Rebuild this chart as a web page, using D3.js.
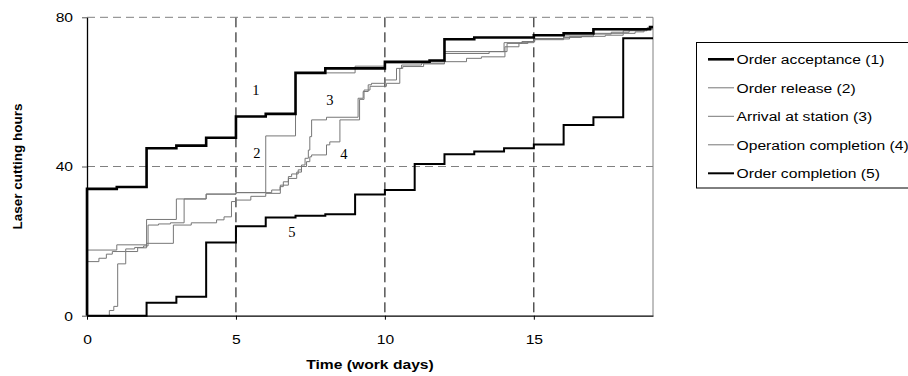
<!DOCTYPE html>
<html>
<head>
<meta charset="utf-8">
<script src="https://cdn.jsdelivr.net/npm/d3@7"></script>
<style>
  body { margin: 0; background: #fff; }
  svg { display: block; font-family: Arial, "Liberation Sans", sans-serif; }
</style>
</head>
<body>
<svg id="chart" width="908" height="376"></svg>
<script>
// step series: [work day, cumulative laser cutting hours]
const orderAcceptance = [[0,0],[0,34],[1,34.5],[2,44.9],[3,45.6],[4,47.7],[5,53.4],[6,54.1],[7,65.1],[8,66.3],[10,68.1],[11.5,68.4],[12,74.1],[13,74.6],[15,75.2],[16,75.7],[17,76.8],[18.9,77.4],[19,77.4]];
const orderRelease = [[0,17.6],[1,19.0],[2,25.8],[3,31.3],[4,32.6],[5,33.0],[6,48.2],[7,65.1],[9,66.9],[10,67.7],[12,70.8],[14,73.2],[15,74.3],[16,75.0],[17,75.7],[18,76.4],[18.8,77.2],[19,77.2]];
const arrivalAtStation = [[0,14.5],[0.4,15.4],[0.65,16.5],[0.85,17.2],[1.3,17.9],[1.6,18.3],[1.9,18.7],[2.05,24.3],[2.4,24.6],[2.8,24.9],[3.26,31.3],[4,32.6],[5,33.0],[6.2,33.7],[6.48,34.6],[6.59,35.9],[6.76,37.3],[6.87,38],[7.09,39.1],[7.2,40.4],[7.32,42.2],[7.43,44.4],[7.48,48],[7.54,52.5],[8.04,53.2],[9.1,58.3],[9.27,60.1],[9.44,61.9],[9.55,62.3],[10,63.2],[10.39,66.3],[10.56,67.2],[11.23,67.7],[11.5,68.1],[12,70.3],[13.5,70.8],[14.1,73.0],[14.6,73.5],[15,74.2],[16.2,74.8],[17,75.5],[17.6,76.0],[18.2,76.5],[18.6,77.0],[19,77.0]];
const operationCompletion = [[0,0],[0.75,1.4],[0.9,2.5],[1.03,13.9],[1.3,17.2],[1.7,18.2],[2.0,19.4],[2.9,24.3],[3.5,24.9],[4.35,25.7],[4.6,26.5],[4.85,30.6],[5.0,31.0],[5.5,32.0],[6.0,32.8],[6.49,35.0],[6.76,36.8],[7.04,38.5],[7.2,40.0],[7.37,41.3],[7.48,42.6],[7.54,43.1],[8.04,45.8],[8.15,46.6],[8.49,52.5],[9.15,58.0],[9.3,60.5],[9.5,61.5],[10.05,62.3],[10.5,66.3],[10.6,66.8],[11.3,67.5],[12,68.1],[12.74,69.0],[13.24,69.4],[14.03,72.1],[14.5,73.0],[14.8,73.5],[15.03,74.0],[16,74.6],[16.6,74.9],[17.4,75.2],[18,75.7],[18.4,76.1],[18.7,76.8],[19,76.8]];
const orderCompletion = [[0,0],[2,3.5],[3,5.1],[4,19.6],[5,24.0],[6,26.3],[7,26.8],[8,27.2],[9,32.5],[10,33.7],[11,40.7],[12,43.3],[13,44.0],[14,44.9],[15,45.9],[16,51.1],[17,53.2],[18,74.4],[19,74.4]];

const seriesNames = ["Order acceptance (1)", "Order release (2)", "Arrival at station (3)", "Operation completion (4)", "Order completion (5)"];
const xTicks = [0, 5, 10, 15];
const yTicks = [0, 40, 80];
// curve number labels: [text, day, hours]
const curveLabels = [["1", 5.67, 60.5], ["2", 5.7, 43.6], ["3", 8.15, 57.8], ["4", 8.62, 43.4], ["5", 6.88, 22.4]];

const series = [
    { name: seriesNames[0], data: orderAcceptance, color: "#000", width: 2.6 },
    { name: seriesNames[1], data: orderRelease, color: "#777", width: 1 },
    { name: seriesNames[2], data: arrivalAtStation, color: "#777", width: 1 },
    { name: seriesNames[3], data: operationCompletion, color: "#777", width: 1 },
    { name: seriesNames[4], data: orderCompletion, color: "#000", width: 2 },
];

const margin = { top: 17.3, right: 255, bottom: 60.3, left: 87 };
const width = 908, height = 376;
const stretch = 1.16; // text in the original is a bit wider than tall
const fontSize = 13.5;

const $svg = d3.select("#chart");

const x = d3.scaleLinear()
    .domain([0, 19])
    .range([margin.left, width - margin.right]);
const y = d3.scaleLinear()
    .domain([0, 80])
    .range([height - margin.bottom, margin.top]);

// Grid
$svg.append("g")
    .selectAll("line")
    .data(xTicks.filter(d => d > 0))
    .join("line")
      .attr("x1", d => x(d)).attr("x2", d => x(d))
      .attr("y1", y(80)).attr("y2", y(0))
      .attr("stroke", "#000")
      .attr("stroke-dasharray", "10,5");

$svg.append("g")
    .selectAll("line")
    .data(yTicks.filter(d => d > 0))
    .join("line")
      .attr("x1", x(0)).attr("x2", x(19))
      .attr("y1", d => y(d)).attr("y2", d => y(d))
      .attr("stroke", "#808080")
      .attr("stroke-dasharray", "8,5");

// right border
$svg.append("line")
    .attr("x1", x(19)).attr("x2", x(19))
    .attr("y1", y(80)).attr("y2", y(0))
    .attr("stroke", "#808080");

// Lines (gray first, black on top)
const line = d3.line()
    .x(d => x(d[0]))
    .y(d => y(d[1]))
    .curve(d3.curveStepAfter);

const drawOrder = [1, 2, 3, 4, 0];
$svg.append("g")
    .selectAll("path")
    .data(drawOrder.map(i => series[i]))
    .join("path")
      .attr("d", d => line(d.data))
      .attr("fill", "none")
      .attr("stroke", d => d.color)
      .attr("stroke-width", d => d.width);

// Axes
const xAxis = d3.axisBottom(x).tickValues(xTicks).tickSize(4).tickSizeOuter(0).tickPadding(15);
const yAxis = d3.axisLeft(y).tickValues(yTicks).tickSize(5).tickSizeOuter(0).tickPadding(7);

function styleTicks(g) {
    g.select(".domain").attr("stroke", "#000").attr("stroke-width", 1.3);
    g.selectAll("text")
      .attr("font-size", fontSize)
      .attr("fill", "#000")
      .attr("font-family", "Arial, 'Liberation Sans', sans-serif")
      .attr("transform", `scale(${stretch},1)`);
}

$svg.append("g")
    .attr("transform", `translate(0,${y(0)})`)
    .call(xAxis)
    .call(styleTicks);

$svg.append("g")
    .attr("transform", `translate(${x(0)},0)`)
    .call(yAxis)
    .call(styleTicks)
    .call(g => g.selectAll(".tick line").attr("stroke", "#555"));

// Axis titles
$svg.append("text")
    .attr("transform", `translate(${(x(0) + x(19)) / 2},369) scale(${stretch},1)`)
    .attr("text-anchor", "middle")
    .attr("font-size", fontSize)
    .attr("font-weight", "bold")
    .text("Time (work days)");

$svg.append("text")
    .attr("transform", `translate(22,${(y(0) + y(80)) / 2}) rotate(-90)`)
    .attr("text-anchor", "middle")
    .attr("font-size", fontSize)
    .attr("font-weight", "bold")
    .text("Laser cutting hours");

// Curve number labels
$svg.append("g")
    .selectAll("text")
    .data(curveLabels)
    .join("text")
      .attr("x", d => x(d[1]))
      .attr("y", d => y(d[2]))
      .attr("text-anchor", "middle")
      .attr("dominant-baseline", "central")
      .attr("font-family", "'Liberation Serif', 'Times New Roman', serif")
      .attr("font-size", 14.5)
      .text(d => d[0]);

// Legend
const legend = $svg.append("g");
legend.append("rect")
    .attr("x", 696.5).attr("y", 42.5)
    .attr("width", 215).attr("height", 145.5)
    .attr("fill", "#fff")
    .attr("stroke", "#000");

const rows = legend.selectAll("g")
    .data(series)
    .join("g")
      .attr("transform", (d, i) => `translate(708,${59.3 + i * 28.5})`);

rows.append("line")
    .attr("x1", 0).attr("x2", 26)
    .attr("stroke", d => d.color)
    .attr("stroke-width", d => d.width);

rows.append("text")
    .attr("transform", `translate(28.5,0) scale(${stretch},1)`)
    .attr("dy", "0.35em")
    .attr("font-size", fontSize)
    .text(d => d.name);
</script>
</body>
</html>
